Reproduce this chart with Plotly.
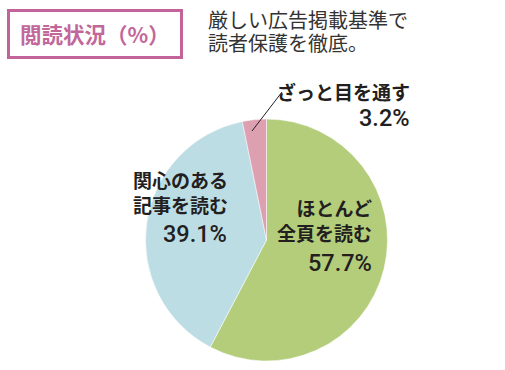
import plotly.graph_objects as go

categories = ["ほとんど全頁を読む", "関心のある記事を読む", "ざっと目を通す"]
values = [57.7, 39.1, 3.2]
colors = ["#b3cd7b", "#bddde5", "#dda0b1"]
title_text = "閲読状況（%）"
note_lines = ["厳しい広告掲載基準で", "読者保護を徹底。"]

W, H = 505, 370
def px(x): return x / W
def py(y): return 1 - y / H

fig = go.Figure(go.Pie(
    labels=categories, values=values, sort=False, direction="clockwise", rotation=0,
    marker=dict(colors=colors, line=dict(color="white", width=0.5)),
    textinfo="none", hoverinfo="label+percent", showlegend=False,
    domain=dict(x=[px(145.5), px(387.5)], y=[py(361), py(119)]),
))

lab_font = dict(family="Noto Sans CJK JP", size=19, color="#231f20", weight="bold")
num_font = dict(family="Roboto", size=23.5, color="#231f20", weight=500)
note_font = dict(family="Liberation Sans, Noto Sans CJK JP", size=20, color="#333333")

ann = []
def a(text, x, y, font, xanchor="right", align="right"):
    ann.append(dict(text=text, x=px(x), y=py(y), xref="paper", yref="paper",
                    xanchor=xanchor, yanchor="middle", showarrow=False, font=font, align=align))

a("ほとんど<br>全頁を読む", 374, 220, lab_font)
a(f"{values[0]}%", 374, 263, num_font)
a("関心のある<br>記事を読む", 230, 192, lab_font)
a(f"{values[1]}%", 229, 234, num_font)
a("ざっと目を通す", 412, 91, lab_font)
a(f"{values[2]}%", 412, 118, num_font)
a(title_text, 95, 34, dict(family="Noto Sans CJK JP", size=21.5, color="#c2679a", weight="bold"), xanchor="center", align="center")
a(note_lines[0], 206, 21, note_font, xanchor="left", align="left")
a(note_lines[1], 206, 44, note_font, xanchor="left", align="left")

fig.update_layout(
    width=W, height=H, margin=dict(l=0, r=0, t=0, b=0),
    paper_bgcolor="white", plot_bgcolor="white",
    annotations=ann,
    shapes=[
        dict(type="rect", xref="paper", yref="paper", x0=px(8.5), x1=px(181.5), y0=py(57.5), y1=py(10.5),
             line=dict(color="#c2649a", width=3)),
        dict(type="line", xref="paper", yref="paper", x0=px(252), y0=py(131), x1=px(282), y1=py(92),
             line=dict(color="#231f20", width=1)),
    ],
)
fig.write_html("out.html", config={"displayModeBar": False},
               post_script="document.body.style.margin='0';")
